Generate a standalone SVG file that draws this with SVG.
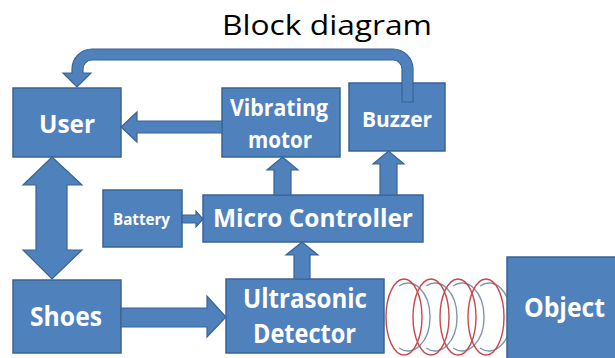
<svg xmlns="http://www.w3.org/2000/svg" width="615" height="358" viewBox="0 0 615 358">
<style>
.box{fill:#4F81BD;stroke:#3A6493;stroke-width:1.5}
.arr{fill:#4F81BD;stroke:#3A6493;stroke-width:1.2;stroke-linejoin:miter}
.lbl{font-family:"Open Sans","Liberation Sans",sans-serif;font-weight:bold;fill:#FFFFFF;text-anchor:middle}
.title{font-family:"Open Sans","Liberation Sans",sans-serif;font-weight:normal;fill:#000000;text-anchor:middle}
.red{fill:none;stroke:#C8474A;stroke-width:1.4}
.gray{fill:none;stroke:#7E96AD;stroke-width:1.4}
</style>
<rect width="615" height="358" fill="#FFFFFF"/>
<text class="title" x="327" y="35" font-size="28" textLength="210" lengthAdjust="spacingAndGlyphs">Block diagram</text>
<g id="waves">
<path class="gray" d="M 399 286 A 22 34 0 1 1 399 348"/>
<path class="gray" d="M 426 286 A 22 34 0 1 1 426 348"/>
<path class="gray" d="M 453 286 A 22 34 0 1 1 453 348"/>
<path class="gray" d="M 480 286 A 22 34 0 1 1 480 348"/>
<ellipse class="red" cx="404" cy="317" rx="18" ry="38"/>
<ellipse class="red" cx="431" cy="317" rx="18" ry="38"/>
<ellipse class="red" cx="458" cy="317" rx="18" ry="38"/>
<ellipse class="red" cx="486" cy="317" rx="18" ry="38"/>
</g>
<g id="user">
<rect class="box" x="13" y="88" width="108" height="69"/>
<text class="lbl" x="67" y="133" font-size="25" textLength="56" lengthAdjust="spacingAndGlyphs">User</text>
</g>
<g id="vibrating-motor">
<rect class="box" x="222" y="88" width="118" height="69"/>
<text class="lbl" x="279" y="116" font-size="23" textLength="98" lengthAdjust="spacingAndGlyphs">Vibrating</text>
<text class="lbl" x="280" y="148" font-size="23" textLength="64" lengthAdjust="spacingAndGlyphs">motor</text>
</g>
<g id="buzzer">
<rect class="box" x="349" y="83" width="96" height="68"/>
<text class="lbl" x="397" y="127" font-size="21" textLength="70" lengthAdjust="spacingAndGlyphs">Buzzer</text>
</g>
<g id="battery">
<rect class="box" x="103" y="190" width="79" height="57"/>
<text class="lbl" x="141.5" y="225" font-size="16.5" textLength="57" lengthAdjust="spacingAndGlyphs">Battery</text>
</g>
<g id="micro-controller">
<rect class="box" x="203" y="195" width="220" height="47"/>
<text class="lbl" x="313" y="227" font-size="25" textLength="200" lengthAdjust="spacingAndGlyphs">Micro Controller</text>
</g>
<g id="shoes">
<rect class="box" x="13" y="280" width="108" height="73"/>
<text class="lbl" x="66" y="326" font-size="26.5" textLength="72" lengthAdjust="spacingAndGlyphs">Shoes</text>
</g>
<g id="ultrasonic-detector">
<rect class="box" x="226" y="279" width="158" height="74"/>
<text class="lbl" x="305" y="308" font-size="26" textLength="124" lengthAdjust="spacingAndGlyphs">Ultrasonic</text>
<text class="lbl" x="304.5" y="343" font-size="26" textLength="103" lengthAdjust="spacingAndGlyphs">Detector</text>
</g>
<g id="object">
<rect class="box" x="507" y="257" width="115" height="110"/>
<text class="lbl" x="564.5" y="317" font-size="26.5" textLength="81" lengthAdjust="spacingAndGlyphs">Object</text>
</g>
<g id="connectors">
<path class="arr" d="M 402 102 L 402 69 A 9 9 0 0 0 393 60 L 92 60 A 9 9 0 0 0 83 69 L 83 73 L 91 73 L 77 87 L 63 73 L 72 73 L 72 69 A 20 20 0 0 1 92 49 L 393 49 A 20 20 0 0 1 413 69 L 413 102 Z"/>
<polygon class="arr" points="222,121 137,121 137,112 121,127 137,142 137,133 222,133"/>
<polygon class="arr" points="274,195 274,170 267,170 282.5,157 298,170 291,170 291,195"/>
<polygon class="arr" points="380,195 380,164 373,164 388.5,151 404,164 397,164 397,195"/>
<polygon class="arr" points="294,279 294,255 286,255 302,242 318,255 310,255 310,279"/>
<polygon class="arr" points="182,215 196,215 196,211 203,219 196,227 196,223 182,223"/>
<polygon class="arr" points="121,308 207,308 207,296 226,317 207,337 207,327 121,327"/>
<polygon class="arr" points="52,157 82,185 67,185 67,250 82,250 52,279 23,250 36,250 36,185 23,185"/>
</g>
</svg>
